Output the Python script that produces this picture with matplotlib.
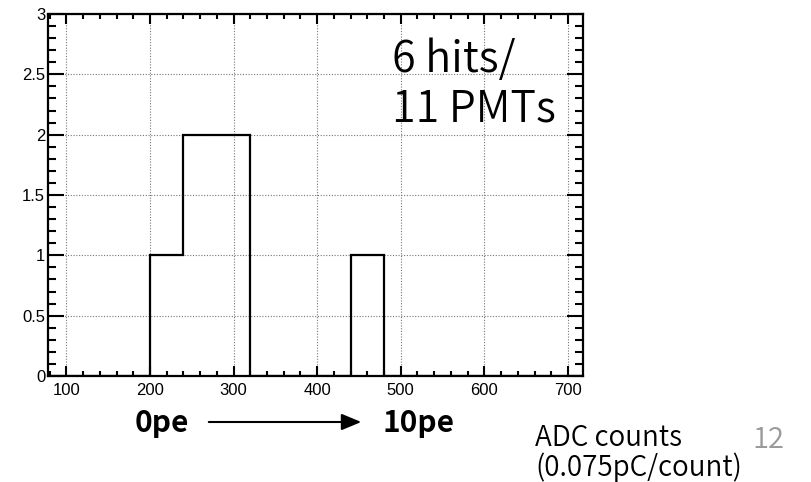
import matplotlib
matplotlib.use("Agg")
import matplotlib.pyplot as plt
from matplotlib.ticker import MultipleLocator
import matplotlib.patches as mpatches

# Data
bin_edges = [80, 120, 160, 200, 240, 280, 320, 360, 400, 440, 480, 520, 560, 600, 640, 680, 720]
counts = [0, 0, 0, 1, 2, 2, 0, 0, 0, 1, 0, 0, 0, 0, 0, 0]
x_ticks = [100, 200, 300, 400, 500, 600, 700]
y_ticks = [0, 0.5, 1, 1.5, 2, 2.5, 3]
y_tick_labels = ["0", "0.5", "1", "1.5", "2", "2.5", "3"]

cjk = ["Noto Sans CJK JP", "DejaVu Sans"]

fig = plt.figure(figsize=(8.12, 4.82), dpi=100)
ax = fig.add_axes([48/812, 1-376/482, (583-48)/812, (376-14)/482])

ax.stairs(counts, bin_edges, color="black", lw=1.6, baseline=0)

ax.set_xlim(78, 718)
ax.set_ylim(0, 3)
ax.set_xticks(x_ticks)
ax.set_yticks(y_ticks)
ax.set_yticklabels(y_tick_labels)
ax.xaxis.set_minor_locator(MultipleLocator(20))
ax.yaxis.set_minor_locator(MultipleLocator(0.1))
ax.grid(True, which="major", color="#777777", ls=(0, (1, 1.5)), lw=0.8)
ax.set_axisbelow(True)

for s in ax.spines.values():
    s.set_linewidth(1.6)

ax.tick_params(axis="both", which="both", direction="in", top=True, right=True, width=1.5)
ax.tick_params(axis="x", which="major", length=7, pad=5)
ax.tick_params(axis="x", which="minor", length=3.5)
ax.tick_params(axis="y", which="major", length=11.5, pad=2)
ax.tick_params(axis="y", which="minor", length=5.8)
for lab in ax.get_xticklabels() + ax.get_yticklabels():
    lab.set_fontfamily("Liberation Sans")
    lab.set_fontsize(12)

# Annotation inside
fig.text(392/812, 1-72/482, "6 hits/", fontsize=31, family=cjk, weight=350,
         ha="left", va="baseline")
fig.text(392/812, 1-122/482, "11 PMTs", fontsize=31, family=cjk, weight=350,
         ha="left", va="baseline")

# Bottom labels
fig.text(135/812, 1-423/482, "0pe", fontsize=21.5, family=cjk, weight="bold", ha="left", va="center")
fig.text(383/812, 1-423/482, "10pe", fontsize=21.5, family=cjk, weight="bold", ha="left", va="center")
fig.add_artist(mpatches.FancyArrowPatch((206/812, 1-422/482), (364/812, 1-422/482),
               transform=fig.transFigure, arrowstyle="-|>,head_length=12,head_width=5",
               color="black", lw=1.5, mutation_scale=1))

fig.text(535/812, 1-438/482, "ADC counts", fontsize=20, family=cjk, weight=350, ha="left", va="center")
fig.text(535/812, 1-468/482, "(0.075pC/count)", fontsize=20, family=cjk, weight=350, ha="left", va="center")
fig.text(752/812, 1-440/482, "12", fontsize=21, family=cjk, weight=350, color="#999999", ha="left", va="center")

fig.savefig("out.png", dpi=100)
